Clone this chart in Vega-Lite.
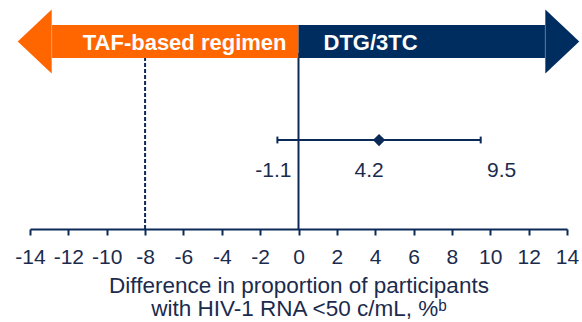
{
  "$schema": "https://vega.github.io/schema/vega-lite/v6.json",
  "width": 537,
  "height": 220,
  "autosize": {"type": "none"},
  "padding": {"left": 30, "top": 9, "right": 15, "bottom": 93},
  "config": {
    "view": {"stroke": null},
    "font": "Liberation Sans",
    "locale": {"number": {"decimal": ".", "thousands": ",", "grouping": [3], "currency": ["$", ""], "minus": "-"}}
  },
  "datasets": {
    "result": [{"comparison": "DTG/3TC vs TAF-based regimen", "estimate": 4.2, "lower": -1.1, "upper": 9.5}],
    "margin": [{"noninferiority_margin": -8}]
  },
  "data": {"name": "result"},
  "layer": [
    {
      "data": {"name": "margin"},
      "mark": {"type": "rule", "color": "#0c2a58", "strokeWidth": 2, "strokeDash": [4, 2]},
      "encoding": {
        "x": {
          "field": "noninferiority_margin",
          "type": "quantitative",
          "scale": {"domain": [-14, 14], "nice": false, "zero": false},
          "axis": {
            "values": [-14, -12, -10, -8, -6, -4, -2, 0, 2, 4, 6, 8, 10, 12, 14],
            "tickCount": 30,
            "labelExpr": "datum.value < 0 ? '-' + abs(datum.value) : '' + datum.value",
            "labelOverlap": false,
            "title": ["Difference in proportion of participants", "with HIV-1 RNA <50 c/mL, %ᵇ"],
            "grid": false,
            "domainColor": "#0c2a58",
            "domainWidth": 2,
            "tickColor": "#0c2a58",
            "tickWidth": 2,
            "tickSize": 6,
            "labelFontSize": 21,
            "labelColor": "#1b2b4d",
            "labelPadding": 11,
            "labelFlush": false,
            "titleFontSize": 22.5,
            "titleFontWeight": "normal",
            "titleColor": "#1b2b4d",
            "titlePadding": 7,
            "titleLineHeight": 23
          }
        },
        "y": {"datum": 0, "type": "quantitative", "scale": {"domain": [0, 10], "nice": false}, "axis": null},
        "y2": {"datum": 8}
      }
    },
    {
      "mark": {"type": "rule", "color": "#0c2a58", "strokeWidth": 2},
      "encoding": {
        "x": {"datum": 0, "type": "quantitative"},
        "y": {"datum": 0, "type": "quantitative"},
        "y2": {"datum": 8}
      }
    },
    {
      "mark": {"type": "rule", "color": "#0c2a58", "strokeWidth": 2},
      "encoding": {
        "x": {"field": "lower", "type": "quantitative"},
        "x2": {"field": "upper"},
        "y": {"datum": 4.045, "type": "quantitative"}
      }
    },
    {
      "transform": [{"fold": ["lower", "upper"], "as": ["bound", "value"]}],
      "mark": {"type": "rule", "color": "#0c2a58", "strokeWidth": 2},
      "encoding": {
        "x": {"field": "value", "type": "quantitative"},
        "y": {"datum": 3.89, "type": "quantitative"},
        "y2": {"datum": 4.2}
      }
    },
    {
      "mark": {"type": "point", "shape": "diamond", "filled": true, "size": 150, "color": "#0c2a58", "opacity": 1},
      "encoding": {
        "x": {"field": "estimate", "type": "quantitative"},
        "y": {"datum": 4.045, "type": "quantitative"}
      }
    },
    {
      "mark": {"type": "text", "fontSize": 21, "color": "#1b2b4d", "align": "center", "baseline": "alphabetic", "dx": -4},
      "encoding": {
        "x": {"field": "lower", "type": "quantitative"},
        "y": {"datum": 2.36, "type": "quantitative"},
        "text": {"field": "lower", "type": "quantitative", "format": ".1f"}
      }
    },
    {
      "mark": {"type": "text", "fontSize": 21, "color": "#1b2b4d", "align": "center", "baseline": "alphabetic", "dx": -10},
      "encoding": {
        "x": {"field": "estimate", "type": "quantitative"},
        "y": {"datum": 2.36, "type": "quantitative"},
        "text": {"field": "estimate", "type": "quantitative", "format": ".1f"}
      }
    },
    {
      "mark": {"type": "text", "fontSize": 21, "color": "#1b2b4d", "align": "center", "baseline": "alphabetic", "dx": 21},
      "encoding": {
        "x": {"field": "upper", "type": "quantitative"},
        "y": {"datum": 2.36, "type": "quantitative"},
        "text": {"field": "upper", "type": "quantitative", "format": ".1f"}
      }
    },
    {
      "mark": {"type": "rect", "color": "#ff6600"},
      "encoding": {
        "x": {"datum": -12.85, "type": "quantitative"},
        "x2": {"datum": 0},
        "y": {"datum": 9.27, "type": "quantitative"},
        "y2": {"datum": 7.77}
      }
    },
    {
      "mark": {"type": "point", "shape": "M-1.06,0L0,-1L0,1Z", "filled": true, "size": 4096, "color": "#ff6600", "opacity": 1, "strokeWidth": 0},
      "encoding": {
        "x": {"datum": -12.87, "type": "quantitative"},
        "y": {"datum": 8.52, "type": "quantitative"}
      }
    },
    {
      "mark": {"type": "rect", "color": "#002d5f"},
      "encoding": {
        "x": {"datum": 0, "type": "quantitative"},
        "x2": {"datum": 12.85},
        "y": {"datum": 9.27, "type": "quantitative"},
        "y2": {"datum": 7.77}
      }
    },
    {
      "mark": {"type": "point", "shape": "M1.06,0L0,-1L0,1Z", "filled": true, "size": 4096, "color": "#002d5f", "opacity": 1, "strokeWidth": 0},
      "encoding": {
        "x": {"datum": 12.87, "type": "quantitative"},
        "y": {"datum": 8.52, "type": "quantitative"}
      }
    },
    {
      "mark": {"type": "text", "text": "TAF-based regimen", "fontSize": 22, "fontWeight": "bold", "color": "white", "align": "right", "baseline": "alphabetic", "dx": -12},
      "encoding": {
        "x": {"datum": 0, "type": "quantitative"},
        "y": {"datum": 8.14, "type": "quantitative"}
      }
    },
    {
      "mark": {"type": "text", "text": "DTG/3TC", "fontSize": 22, "fontWeight": "bold", "color": "white", "align": "left", "baseline": "alphabetic", "dx": 25},
      "encoding": {
        "x": {"datum": 0, "type": "quantitative"},
        "y": {"datum": 8.14, "type": "quantitative"}
      }
    }
  ]
}
